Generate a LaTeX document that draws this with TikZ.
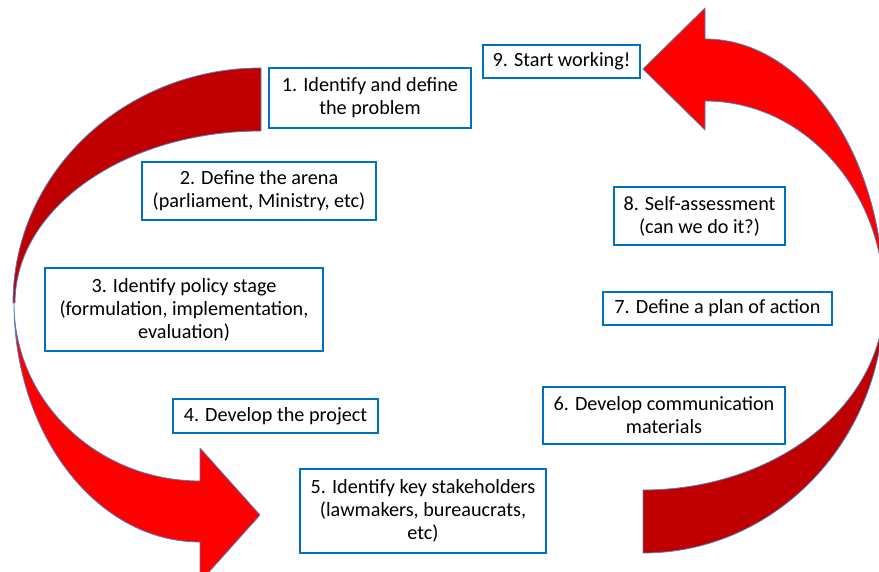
\documentclass[tikz,border=0pt]{standalone}
\usepackage{fontspec}
\setmainfont{Carlito}
\usepackage{tikz}
\definecolor{backred}{HTML}{C00000}
\definecolor{frontred}{HTML}{FF0000}
\definecolor{edgeblue}{HTML}{4F81BD}
\definecolor{boxblue}{HTML}{0070C0}
\tikzset{
  stagebox/.style={draw=boxblue, line width=2.3pt, fill=white, align=center,
    inner sep=1pt, font=\fontsize{20.2}{23}\selectfont},
  ribbon/.style={draw=edgeblue, line width=0.8pt, line join=round}
}
% left arrow: back (top) and front (bottom with head)
\def\leftback{(261,504) arc[start angle=90,end angle=180,x radius=248,y radius=235]
  -- (15,269) arc[start angle=180,end angle=90,x radius=246,y radius=172] -- cycle}
\def\leftfront{(14,269) arc[start angle=180,end angle=270,x radius=186,y radius=239]
  -- (200,-10) -- (260,57) -- (200,124) -- (200,91)
  arc[start angle=270,end angle=180,x radius=186,y radius=178] -- cycle}
% right arrow: back (bottom) and front (top with head)
\def\rightback{(643,19) arc[start angle=270,end angle=360,x radius=241,y radius=253]
  arc[start angle=0,end angle=-90,x radius=241,y radius=190] -- cycle}
\def\rightfront{(884,272) arc[start angle=0,end angle=90,x radius=179,y radius=261]
  -- (705,564) -- (643,503) -- (705,442) -- (705,471)
  arc[start angle=90,end angle=0,x radius=179,y radius=199] -- cycle}

\begin{document}
\begin{tikzpicture}[x=1pt,y=1pt]
  \useasboundingbox (0,0) rectangle (879,572);
  \clip (0,0) rectangle (879,572);
  \begin{scope}[ribbon]
    \filldraw[fill=backred] \leftback;
    \filldraw[fill=frontred] \leftfront;
    \filldraw[fill=backred] \rightback;
    \filldraw[fill=frontred] \rightfront;
  \end{scope}

  \node[stagebox, minimum width=202pt, minimum height=60pt] (problem) at (370,474)
    {1. Identify and define\\the problem};
  \node[stagebox, minimum width=234pt, minimum height=58pt] (arena) at (259,381)
    {2. Define the arena\\(parliament, Ministry, etc)};
  \node[stagebox, minimum width=278pt, minimum height=83pt] (stage) at (184,262.5)
    {3. Identify policy stage\\(formulation, implementation,\\evaluation)};
  \node[stagebox, minimum width=205pt, minimum height=34pt] (project) at (275.5,156)
    {4. Develop the project};
  \node[stagebox, minimum width=246pt, minimum height=84pt] (stakeholders) at (423,61)
    {5. Identify key stakeholders\\(lawmakers, bureaucrats,\\etc)};
  \node[stagebox, minimum width=242pt, minimum height=57pt] (materials) at (664,156.5)
    {6. Develop communication\\materials};
  \node[stagebox, minimum width=229pt, minimum height=33pt] (plan) at (717.5,263.5)
    {7. Define a plan of action};
  \node[stagebox, minimum width=171pt, minimum height=58pt] (selfcheck) at (699.5,356)
    {8. Self-assessment\\(can we do it?)};
  \node[stagebox, minimum width=157pt, minimum height=33pt] (start) at (561.5,510.5)
    {9. Start working!};
\end{tikzpicture}
\end{document}
